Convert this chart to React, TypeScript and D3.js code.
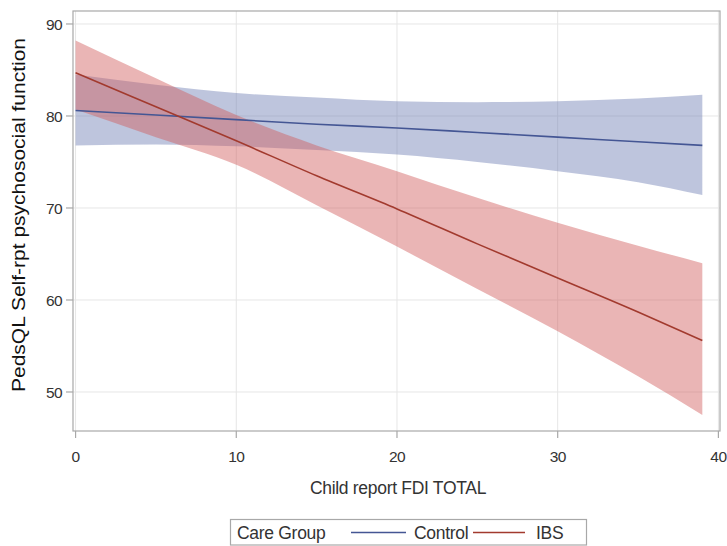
import React from "react";
import * as d3 from "d3";

const xValues = [0, 5, 10, 15, 20, 25, 30, 35, 39];
const controlLine = [80.6, 80.1, 79.6, 79.1, 78.7, 78.2, 77.7, 77.2, 76.8];
const controlUpper = [84.5, 83.4, 82.5, 82.0, 81.6, 81.5, 81.6, 81.9, 82.3];
const controlLower = [76.8, 76.9, 76.7, 76.3, 75.8, 75.0, 74.0, 72.8, 71.4];
const ibsLine = [84.7, 81.0, 77.3, 73.5, 69.9, 66.1, 62.4, 58.7, 55.6];
const ibsUpper = [88.2, 84.1, 80.1, 76.8, 74.0, 71.1, 68.4, 65.9, 64.0];
const ibsLower = [80.7, 77.7, 74.7, 70.3, 65.8, 61.2, 56.6, 51.7, 47.5];

const xTicks = [0, 10, 20, 30, 40];
const yTicks = [50, 60, 70, 80, 90];

const series = [
  { name: "Control", line: controlLine, upper: controlUpper, lower: controlLower, stroke: "#445694", fill: "#6F7EB3" },
  { name: "IBS", line: ibsLine, upper: ibsUpper, lower: ibsLower, stroke: "#A23A2E", fill: "#D05B5B" },
];

const W = 727;
const H = 546;
const L = 73, R = 720, T = 11, B = 431;

export default function App() {
  const x = d3.scaleLinear().domain([-0.16, 40.1]).range([L, R]);
  const y = d3.scaleLinear().domain([45.76, 91.41]).range([B, T]);

  const area = (s: typeof series[0]) =>
    d3
      .area<number>()
      .x((_, i) => x(xValues[i]))
      .y0((_, i) => y(s.lower[i]))
      .y1((_, i) => y(s.upper[i]))
      .curve(d3.curveMonotoneX)(xValues) || "";
  const line = (s: typeof series[0]) =>
    d3
      .line<number>()
      .x((_, i) => x(xValues[i]))
      .y((_, i) => y(s.line[i]))
      .curve(d3.curveMonotoneX)(xValues) || "";

  const font = "'Liberation Sans', Arial, sans-serif";

  return (
    <svg width={W} height={H} style={{ position: "absolute", left: 0, top: 0, background: "#fff" }} fontFamily={font}>
      {/* grid */}
      {yTicks.map((t) => (
        <line key={"gy" + t} x1={L} x2={R} y1={y(t)} y2={y(t)} stroke="#e6e6e6" strokeWidth={1} />
      ))}
      {xTicks.map((t) => (
        <line key={"gx" + t} x1={x(t)} x2={x(t)} y1={T} y2={B} stroke="#e6e6e6" strokeWidth={1} />
      ))}
      {/* bands */}
      {series.map((s) => (
        <path key={"a" + s.name} d={area(s)} fill={s.fill} fillOpacity={0.45} stroke="none" />
      ))}
      {series.map((s) => (
        <path key={"l" + s.name} d={line(s)} fill="none" stroke={s.stroke} strokeWidth={1.6} />
      ))}
      {/* frame */}
      <rect x={L} y={T} width={R - L} height={B - T} fill="none" stroke="#a8a8a8" strokeWidth={1.2} />
      {/* y ticks */}
      {yTicks.map((t) => (
        <g key={"yt" + t}>
          <line x1={L - 7} x2={L} y1={y(t)} y2={y(t)} stroke="#a8a8a8" strokeWidth={1.2} />
          <text x={L - 11} y={y(t)} dy="0.36em" textAnchor="end" fontSize={15.5} fill="#333" letterSpacing={-0.6}>
            {t}
          </text>
        </g>
      ))}
      {/* x ticks */}
      {xTicks.map((t) => (
        <g key={"xt" + t}>
          <line x1={x(t)} x2={x(t)} y1={B} y2={B + 7} stroke="#a8a8a8" strokeWidth={1.2} />
          <text x={x(t)} y={B + 31} textAnchor="middle" fontSize={15.5} fill="#333" letterSpacing={-0.6}>
            {t}
          </text>
        </g>
      ))}
      {/* axis titles */}
      <text
        transform={`translate(25, 215) rotate(-90)`}
        textAnchor="middle"
        fontSize={19}
        fill="#111"
        textLength={354}
        lengthAdjust="spacingAndGlyphs"
      >
        PedsQL Self-rpt psychosocial function
      </text>
      <text x={398} y={494} textAnchor="middle" fontSize={17.5} fill="#333" letterSpacing={-0.3}>
        Child report FDI TOTAL
      </text>
      {/* legend */}
      <rect x={230.5} y={519.5} width={356} height={25.5} fill="none" stroke="#a8a8a8" strokeWidth={1.2} />
      <text x={237} y={538.5} fontSize={17.5} fill="#333" letterSpacing={-0.3}>Care Group</text>
      <line x1={351} x2={406} y1={532.5} y2={532.5} stroke={series[0].stroke} strokeWidth={1.6} />
      <text x={414} y={538.5} fontSize={17.5} fill="#333" letterSpacing={-0.3}>Control</text>
      <line x1={473} x2={525} y1={532.5} y2={532.5} stroke={series[1].stroke} strokeWidth={1.6} />
      <text x={536} y={538.5} fontSize={17.5} fill="#333" letterSpacing={-0.3}>IBS</text>
    </svg>
  );
}
